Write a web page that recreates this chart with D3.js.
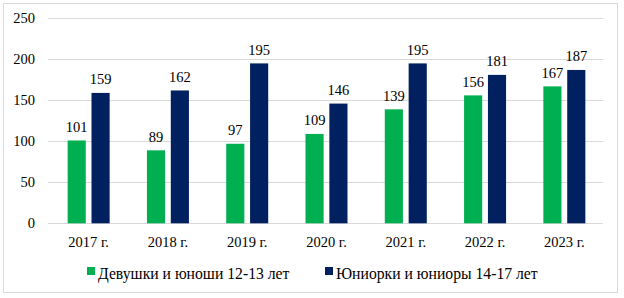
<!DOCTYPE html>
<html>
<head>
<meta charset="utf-8">
<script src="https://cdn.jsdelivr.net/npm/d3@7"></script>
<style>
  body { margin: 0; background: #fff; }
</style>
</head>
<body>
<div id="chart"></div>
<script>
var years = ["2017 г.", "2018 г.", "2019 г.", "2020 г.", "2021 г.", "2022 г.", "2023 г."];
var girlsBoys = [101, 89, 97, 109, 139, 156, 167];
var juniors = [159, 162, 195, 146, 195, 181, 187];
var seriesNames = ["Девушки и юноши 12-13 лет", "Юниорки и юниоры 14-17 лет"];
var seriesColors = ["#00B050", "#002060"];
var yTicks = [0, 50, 100, 150, 200, 250];

var width = 624, height = 298;
var fontFam = "'Liberation Serif', 'Times New Roman', 'DejaVu Serif', serif";

var svg = d3.select("#chart").append("svg")
    .attr("width", width)
    .attr("height", height)
    .attr("font-family", fontFam);

// outer frame
svg.append("rect")
    .attr("x", 3.5).attr("y", 3.5)
    .attr("width", 614).attr("height", 289)
    .attr("fill", "#fff")
    .attr("stroke", "#d9d9d9");

let xScale = d3.scaleBand()
    .domain(years)
    .range([49, 604]);

let yScale = d3.scaleLinear()
    .domain([0, 250])
    .range([223.3, 18.3]);

let inner = d3.scaleBand()
    .domain([0, 1])
    .range([xScale.bandwidth() / 2 - 21, xScale.bandwidth() / 2 + 21])
    .paddingInner(0.24);

// gridlines
svg.append("g")
    .selectAll("line")
    .data(yTicks)
    .enter().append("line")
    .attr("x1", 48).attr("x2", 603)
    .attr("y1", d => Math.round(yScale(d)) + 0.5)
    .attr("y2", d => Math.round(yScale(d)) + 0.5)
    .attr("stroke", "#d9d9d9");

// y labels
svg.append("g")
    .selectAll("text")
    .data(yTicks)
    .enter().append("text")
    .attr("x", 35)
    .attr("y", d => yScale(d))
    .attr("dy", "0.35em")
    .attr("text-anchor", "end")
    .attr("font-size", 14.5)
    .text(d => d);

// x labels
svg.append("g")
    .selectAll("text")
    .data(years)
    .enter().append("text")
    .attr("x", d => xScale(d) + xScale.bandwidth() / 2)
    .attr("y", 246.5)
    .attr("text-anchor", "middle")
    .attr("font-size", 14.5)
    .text(d => d);

let series = [girlsBoys, juniors];
series.forEach(function (vals, s) {
    let g = svg.append("g");
    g.selectAll("rect")
        .data(vals)
        .enter().append("rect")
        .attr("x", (d, i) => xScale(years[i]) + inner(s))
        .attr("width", inner.bandwidth())
        .attr("y", d => yScale(d))
        .attr("height", d => yScale(0) - yScale(d))
        .attr("fill", seriesColors[s]);
    g.selectAll("text")
        .data(vals)
        .enter().append("text")
        .attr("x", (d, i) => xScale(years[i]) + inner(s) + inner.bandwidth() / 2)
        .attr("y", d => yScale(d) - 8.5)
        .attr("text-anchor", "middle")
        .attr("font-size", 14.5)
        .text(d => d);
});

// legend
let legendX = [87, 325];
let legend = svg.append("g");
seriesNames.forEach(function (name, s) {
    legend.append("rect")
        .attr("x", legendX[s]).attr("y", 267)
        .attr("width", 8).attr("height", 8)
        .attr("fill", seriesColors[s]);
    legend.append("text")
        .attr("x", legendX[s] + 11)
        .attr("y", 278.5)
        .attr("font-size", 15.7)
        .text(name);
});
</script>
</body>
</html>
